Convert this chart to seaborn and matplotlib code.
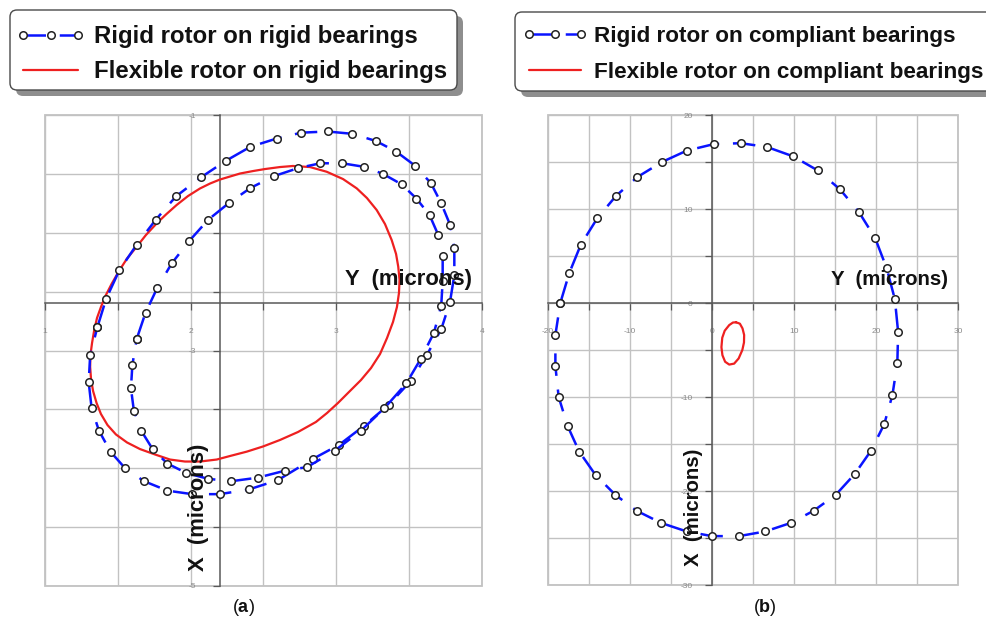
import matplotlib
matplotlib.use("Agg")
import matplotlib.pyplot as plt
import seaborn as sns
from matplotlib.patches import FancyBboxPatch, Rectangle
from matplotlib.transforms import IdentityTransform
from matplotlib.ticker import FixedLocator, MultipleLocator, FormatStrFormatter

# ---------------- panel (a): rotor orbits on rigid bearings ----------------
# horizontal = Y (microns), vertical = X (microns)
a_rigid_outer_Y = [1.36, 1.42, 1.51, 1.63, 1.76, 1.90, 2.07, 2.24, 2.41, 2.59, 2.76,
                   2.94, 3.11, 3.27, 3.41, 3.54, 3.65, 3.72, 3.78, 3.81, 3.81, 3.78,
                   3.72, 3.62, 3.51, 3.36, 3.19, 3.02, 2.84, 2.60, 2.40, 2.20, 2.01,
                   1.84, 1.68, 1.55, 1.45, 1.37, 1.32, 1.30, 1.31]
a_rigid_outer_X = [-2.80, -2.56, -2.32, -2.10, -1.89, -1.69, -1.53, -1.39, -1.27, -1.20,
                   -1.15, -1.14, -1.16, -1.22, -1.31, -1.43, -1.58, -1.75, -1.93, -2.13,
                   -2.36, -2.59, -2.82, -3.04, -3.26, -3.46, -3.64, -3.80, -3.92, -4.10,
                   -4.18, -4.22, -4.22, -4.19, -4.11, -4.00, -3.86, -3.68, -3.49, -3.27,
                   -3.04]
a_rigid_inner_Y = [1.63, 1.69, 1.77, 1.87, 1.99, 2.12, 2.26, 2.41, 2.57, 2.74, 2.89,
                   3.04, 3.19, 3.32, 3.45, 3.55, 3.64, 3.70, 3.73, 3.73, 3.72, 3.67,
                   3.58, 3.48, 3.33, 3.17, 2.99, 2.80, 2.65, 2.46, 2.28, 2.12, 1.97,
                   1.84, 1.74, 1.66, 1.61, 1.59, 1.60]
a_rigid_inner_X = [-2.90, -2.68, -2.47, -2.26, -2.07, -1.89, -1.75, -1.62, -1.52, -1.45,
                   -1.41, -1.41, -1.44, -1.50, -1.59, -1.71, -1.85, -2.02, -2.20, -2.41,
                   -2.62, -2.85, -3.07, -3.28, -3.49, -3.68, -3.85, -3.99, -4.02, -4.08,
                   -4.11, -4.09, -4.04, -3.96, -3.84, -3.68, -3.51, -3.32, -3.12]
a_flex_Y = [2.702, 2.819, 2.934, 3.046, 3.140, 3.210, 3.277, 3.334, 3.380, 3.410,
            3.425, 3.434, 3.430, 3.416, 3.389, 3.348, 3.300, 3.238, 3.169, 3.087,
            3.011, 2.936, 2.860, 2.737, 2.613, 2.497, 2.385, 2.270, 2.179, 2.064,
            1.961, 1.858, 1.755, 1.652, 1.563, 1.487, 1.429, 1.384, 1.354, 1.330,
            1.316, 1.310, 1.312, 1.323, 1.338, 1.357, 1.384, 1.415, 1.457, 1.508,
            1.563, 1.630, 1.693, 1.767, 1.834, 1.904, 1.982, 2.064, 2.133, 2.201,
            2.339, 2.428, 2.510, 2.613]
a_flex_X = [-1.433, -1.442, -1.482, -1.544, -1.623, -1.705, -1.807, -1.926, -2.062,
            -2.180, -2.288, -2.401, -2.512, -2.631, -2.758, -2.894, -3.030, -3.149,
            -3.251, -3.352, -3.446, -3.531, -3.607, -3.692, -3.760, -3.815, -3.859,
            -3.896, -3.926, -3.943, -3.943, -3.926, -3.883, -3.837, -3.781, -3.713,
            -3.633, -3.539, -3.446, -3.344, -3.242, -3.140, -3.038, -2.936, -2.826,
            -2.724, -2.631, -2.537, -2.435, -2.325, -2.219, -2.118, -2.019, -1.920,
            -1.841, -1.764, -1.688, -1.624, -1.582, -1.548, -1.497, -1.476, -1.459,
            -1.442]

# ---------------- panel (b): rotor orbits on compliant bearings ----------------
b_rigid_Y = [-18.5, -17.4, -16.0, -14.0, -11.7, -9.1, -6.1, -3.1, 0.2, 3.5, 6.7, 9.9,
             12.9, 15.6, 17.9, 19.9, 21.3, 22.3, 22.7, 22.6, 22.0, 21.0, 19.4, 17.4,
             15.1, 12.4, 9.6, 6.5, 3.3, 0.0, -3.1, -6.2, -9.2, -11.8, -14.2, -16.2,
             -17.6, -18.7, -19.1, -19.1]
b_rigid_X = [0.0, 3.2, 6.2, 9.0, 11.4, 13.4, 15.0, 16.2, 16.9, 17.0, 16.6, 15.6, 14.1,
             12.1, 9.7, 6.9, 3.7, 0.4, -3.1, -6.4, -9.8, -12.9, -15.7, -18.2, -20.4,
             -22.1, -23.4, -24.3, -24.8, -24.8, -24.3, -23.4, -22.1, -20.4, -18.3,
             -15.8, -13.1, -10.0, -6.7, -3.4]
b_flex_Y = [2.93, 3.40, 3.72, 3.92, 3.90, 3.70, 3.25, 2.70, 2.10, 1.60, 1.27, 1.15,
            1.25, 1.55, 2.10, 2.55]
b_flex_X = [-2.05, -2.20, -2.70, -3.40, -4.20, -5.00, -5.90, -6.45, -6.55, -6.25,
            -5.55, -4.70, -3.70, -2.95, -2.35, -2.08]

a_labels = ["Rigid rotor on rigid bearings", "Flexible rotor on rigid bearings"]
b_labels = ["Rigid rotor on compliant bearings", "Flexible rotor on compliant bearings"]

a_xticks = [1, 2, 3, 4]
a_yticks = [-5, -3, -1]
b_xticks = [-20, -10, 0, 10, 20, 30]
b_yticks = [-30, -20, -10, 0, 10, 20]

sns.set_theme(style="white")
plt.rcParams["font.family"] = ["Liberation Sans", "DejaVu Sans"]
plt.rcParams["axes.unicode_minus"] = False
plt.rcParams["mathtext.fontset"] = "custom"
plt.rcParams["mathtext.rm"] = "Liberation Sans"
plt.rcParams["mathtext.bf"] = "Liberation Sans:bold"

W, H = 987, 628
fig = plt.figure(figsize=(W / 100, H / 100), dpi=100)
fig.patch.set_facecolor("white")

GRID = "#c2c2c2"
AXIS = "#585858"
BLUE = "#0a14ff"
RED = "#ee2020"
TICKTXT = "#8a8a8a"

rigid_kw = dict(color=BLUE, linewidth=1.8, linestyle=(0, (9, 5.5)), marker="o",
                markersize=5.4, markerfacecolor="white", markeredgecolor="#222222",
                markeredgewidth=1.1)
flex_kw = dict(color=RED, linewidth=1.6)


def px_rect(l, t, r, b):
    return [l / W, 1 - b / H, (r - l) / W, (b - t) / H]


def closed(v):
    return list(v) + [v[0]]


def style_axes(ax, xlim, ylim, xmaj, ymaj, xstep, ystep, x_at, y_at, ypad, xpad):
    ax.set_xlim(*xlim)
    ax.set_ylim(*ylim)
    ax.set_facecolor("white")
    ax.xaxis.set_major_locator(FixedLocator(xmaj))
    ax.yaxis.set_major_locator(FixedLocator(ymaj))
    ax.xaxis.set_minor_locator(MultipleLocator(xstep))
    ax.yaxis.set_minor_locator(MultipleLocator(ystep))
    ax.xaxis.set_major_formatter(FormatStrFormatter("%g"))
    ax.yaxis.set_major_formatter(FormatStrFormatter("%g"))
    ax.grid(True, which="both", color=GRID, linewidth=1.0)
    ax.set_axisbelow(True)
    for s in ("top", "right"):
        ax.spines[s].set_visible(False)
    ax.spines["left"].set_position(("data", x_at))
    ax.spines["bottom"].set_position(("data", y_at))
    for s in ("left", "bottom"):
        ax.spines[s].set_color(AXIS)
        ax.spines[s].set_linewidth(1.1)
        ax.spines[s].set_zorder(1.5)
    ax.tick_params(which="both", bottom=True, left=True, direction="out",
                   length=5, width=0.9, color=AXIS, labelsize=6, labelcolor=TICKTXT)
    ax.tick_params(axis="y", which="major", pad=ypad)
    ax.tick_params(axis="x", which="major", pad=xpad)
    ax.add_patch(Rectangle((0, 0), 1, 1, transform=ax.transAxes, fill=False,
                           edgecolor=GRID, linewidth=1.3, clip_on=False, zorder=0.5))
    ax.set_xlabel("")
    ax.set_ylabel("")


def draw_legend_box(l, t, r, b, handles, labels, size, anchor, ls, hl, htp):
    shadow = FancyBboxPatch((l + 6, H - b - 6), r - l, b - t,
                            boxstyle="round,pad=0,rounding_size=7",
                            transform=IdentityTransform(), facecolor="#8e8e8e",
                            edgecolor="none", zorder=1)
    box = FancyBboxPatch((l, H - b), r - l, b - t,
                         boxstyle="round,pad=0,rounding_size=7",
                         transform=IdentityTransform(), facecolor="white",
                         edgecolor="#4a4a4a", linewidth=1.0, zorder=2)
    fig.add_artist(shadow)
    fig.add_artist(box)
    leg = fig.legend(handles, labels, loc="upper left", bbox_to_anchor=anchor,
                     bbox_transform=fig.transFigure, frameon=False, numpoints=3,
                     handlelength=hl, handletextpad=htp, labelspacing=ls,
                     borderpad=0, borderaxespad=0,
                     prop=dict(family="Liberation Sans", weight="bold", size=size))
    leg.set_zorder(3)
    for t_ in leg.get_texts():
        t_.set_color("#111111")


# ---------------- panel (a) ----------------
ax_a = fig.add_axes(px_rect(45, 115, 482, 586))
sns.lineplot(x=closed(a_rigid_outer_Y), y=closed(a_rigid_outer_X), sort=False,
             estimator=None, ax=ax_a, label=a_labels[0], zorder=3, **rigid_kw)
sns.lineplot(x=closed(a_rigid_inner_Y), y=closed(a_rigid_inner_X), sort=False,
             estimator=None, ax=ax_a, zorder=3, **rigid_kw)
sns.lineplot(x=closed(a_flex_Y), y=closed(a_flex_X), sort=False, estimator=None,
             ax=ax_a, label=a_labels[1], zorder=2.5, **flex_kw)
h_a, l_a = ax_a.get_legend_handles_labels()
if ax_a.get_legend() is not None:
    ax_a.get_legend().remove()
style_axes(ax_a, (1, 4), (-5, -1), a_xticks, a_yticks, 0.5, 0.5, 2.2, -2.6,
           ypad=12, xpad=13)
ax_a.text(0.977, 0.650, "Y  (microns)", transform=ax_a.transAxes, ha="right",
          va="center", fontsize=15.8, fontweight="bold", color="#111111", zorder=10)
ax_a.text(0.352, 0.168, "X  (microns)", transform=ax_a.transAxes, ha="center",
          va="center", rotation=90, fontsize=15.8, fontweight="bold",
          color="#111111", zorder=10)

# ---------------- panel (b) ----------------
ax_b = fig.add_axes(px_rect(548, 115, 958, 585))
sns.lineplot(x=closed(b_rigid_Y), y=closed(b_rigid_X), sort=False, estimator=None,
             ax=ax_b, label=b_labels[0], zorder=3, **rigid_kw)
sns.lineplot(x=closed(b_flex_Y), y=closed(b_flex_X), sort=False, estimator=None,
             ax=ax_b, label=b_labels[1], zorder=2.5, **flex_kw)
h_b, l_b = ax_b.get_legend_handles_labels()
if ax_b.get_legend() is not None:
    ax_b.get_legend().remove()
style_axes(ax_b, (-20, 30), (-30, 20), b_xticks, b_yticks, 5, 5, 0, 0,
           ypad=9, xpad=13)
ax_b.text(0.976, 0.649, "Y  (microns)", transform=ax_b.transAxes, ha="right",
          va="center", fontsize=14.7, fontweight="bold", color="#111111", zorder=10)
ax_b.text(0.354, 0.166, "X  (microns)", transform=ax_b.transAxes, ha="center",
          va="center", rotation=90, fontsize=14.7, fontweight="bold",
          color="#111111", zorder=10)

# ---------------- legends ----------------
draw_legend_box(10, 10, 457, 90, h_a, l_a, 17.3, (16 / W, 1 - 25 / H), 0.52, 2.9, 0.33)
draw_legend_box(515, 12, 1010, 91, h_b, l_b, 16.2, (522 / W, 1 - 26 / H), 0.67, 2.9, 0.3)

# ---------------- panel tags ----------------
fig.text(243 / W, 1 - 608 / H, r"($\mathbf{a}$)", ha="center", va="center",
         fontsize=13, color="#111111")
fig.text(765 / W, 1 - 608 / H, r"($\mathbf{b}$)", ha="center", va="center",
         fontsize=13, color="#111111")

fig.savefig("out.png", dpi=100, facecolor="white")
